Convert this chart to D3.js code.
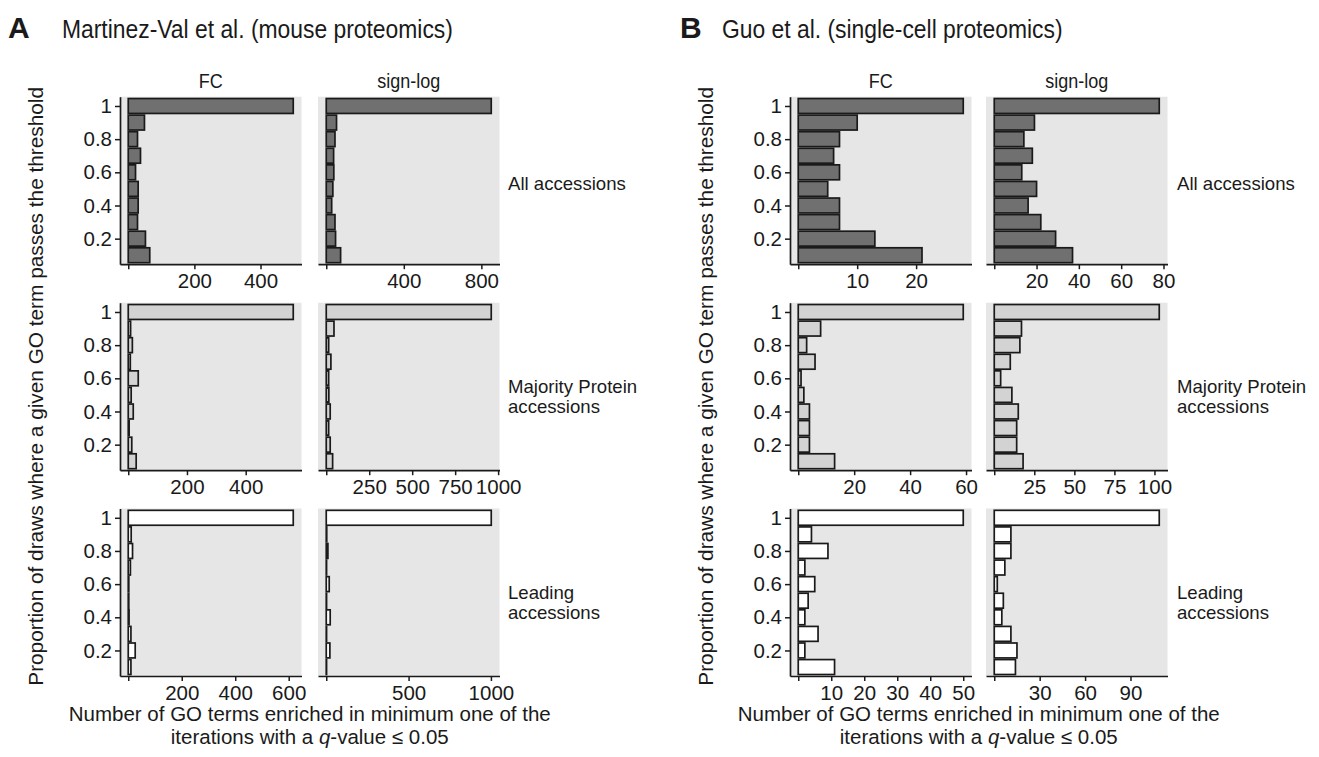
<!DOCTYPE html>
<html><head><meta charset="utf-8">
<script src="https://cdn.jsdelivr.net/npm/d3@7"></script>
<style>
body{margin:0;background:#fff}
text{font-family:"Liberation Sans",Arial,Helvetica,sans-serif;fill:#1a1a1a}
</style>
</head><body>
<svg id="chart" width="1319" height="757"></svg>
<script>
// ---------------- DATA ----------------
const proportions = [1.0, 0.9, 0.8, 0.7, 0.6, 0.5, 0.4, 0.3, 0.2, 0.1];
const methods = ["FC", "sign-log"];
const accessionTypes = ["All accessions", "Majority Protein\naccessions", "Leading\naccessions"];
const yTicks = [0.2, 0.4, 0.6, 0.8, 1];

// Panel A – Martinez-Val et al. (mouse proteomics)
const martinezAllFC        = [499, 49, 28, 37, 22, 30, 30, 28, 52, 65];
const martinezAllSignLog   = [851, 53, 45, 38, 39, 34, 28, 45, 48, 74];
const martinezMajorityFC   = [562, 8, 14, 7, 34, 10, 17, 3, 12, 27];
const martinezMajoritySignLog = [960, 45, 14, 27, 14, 15, 23, 14, 23, 37];
const martinezLeadingFC    = [617, 11, 16, 8, 2, 2, 3, 10, 26, 10];
const martinezLeadingSignLog = [1002, 3, 10, 2, 18, 2, 24, 2, 22, 2];

// Panel B – Guo et al. (single-cell proteomics)
const guoAllFC        = [28, 10, 7, 6, 7, 5, 7, 7, 13, 21];
const guoAllSignLog   = [78, 19, 14, 18, 13, 20, 16, 22, 29, 37];
const guoMajorityFC   = [59, 8, 3, 6, 1, 2, 4, 4, 4, 13];
const guoMajoritySignLog = [103, 17, 16, 10, 4, 11, 15, 14, 14, 18];
const guoLeadingFC    = [50, 4, 9, 2, 5, 3, 2, 6, 2, 11];
const guoLeadingSignLog = [109, 11, 11, 7, 2, 6, 5, 11, 15, 14];

// x tick values per facet
const martinezTicks = [
  [[0, 200, 400], [0, 400, 800]],
  [[0, 200, 400], [0, 250, 500, 750, 1000]],
  [[0, 200, 400, 600], [0, 500, 1000]]
];
const guoTicks = [
  [[0, 10, 20], [0, 20, 40, 60, 80]],
  [[0, 20, 40, 60], [0, 25, 50, 75, 100]],
  [[0, 10, 20, 30, 40, 50], [0, 30, 60, 90]]
];

const yAxisTitle = "Proportion of draws where a given GO term passes the threshold";
const xAxisTitle = ["Number of GO terms enriched in minimum one of the", "iterations with a ", "q", "-value \u2264 0.05"];

// ---------------- LAYOUT / STYLE ----------------
const fills = ["#707070", "#d3d3d3", "#ffffff"];
const panelBg = "#e6e6e6";
const ink = "#1a1a1a";
const panelW = 181.5, panelH = 167.5;
const rowTops = [96.7, 302.7, 508.5];

const groups = [
  { letter: "A", title: "Martinez-Val et al. (mouse proteomics)",
    data: [[martinezAllFC, martinezAllSignLog], [martinezMajorityFC, martinezMajoritySignLog], [martinezLeadingFC, martinezLeadingSignLog]],
    ticks: martinezTicks, colX: [120, 318], letterX: 8, titleX: 62, yTitleX: 43, stripX: 508 },
  { letter: "B", title: "Guo et al. (single-cell proteomics)",
    data: [[guoAllFC, guoAllSignLog], [guoMajorityFC, guoMajoritySignLog], [guoLeadingFC, guoLeadingSignLog]],
    ticks: guoTicks, colX: [790, 986], letterX: 680, titleX: 722, yTitleX: 713, stripX: 1177 }
];

const svg = d3.select("#chart");

groups.forEach(g => {
  // panel letter & title
  svg.append("text").attr("x", g.letterX).attr("y", 38)
    .attr("font-size", 30).attr("font-weight", "bold").text(g.letter);
  svg.append("text").attr("transform", `translate(${g.titleX},38) scale(0.88,1)`)
    .attr("font-size", 26).text(g.title);

  // column strip labels
  methods.forEach((m, c) => {
    svg.append("text")
      .attr("transform", `translate(${g.colX[c] + panelW / 2},88) scale(0.9,1)`)
      .attr("text-anchor", "middle").attr("font-size", 20).text(m);
  });

  g.data.forEach((rowData, r) => {
    const top = rowTops[r];
    const ys = d3.scaleLinear().domain([0.046, 1.056]).range([top + panelH, top]);
    const bh = ys(0) - ys(0.09);

    rowData.forEach((vals, c) => {
      const x0 = g.colX[c];
      const M = d3.max(vals);
      const xs = d3.scaleLinear().domain([-0.05 * M, 1.05 * M]).range([x0, x0 + panelW]);
      const gp = svg.append("g");
      gp.append("rect").attr("x", x0).attr("y", top).attr("width", panelW).attr("height", panelH)
        .attr("fill", panelBg);
      gp.selectAll("rect.bar").data(vals).join("rect").attr("class", "bar")
        .attr("x", xs(0))
        .attr("y", (d, i) => ys(proportions[i]) - bh / 2)
        .attr("width", d => xs(d) - xs(0))
        .attr("height", bh)
        .attr("fill", fills[r]).attr("stroke", ink).attr("stroke-width", 1.7);

      // bottom axis
      const ax = d3.axisBottom(xs).tickValues(g.ticks[r][c]).tickSize(5).tickSizeOuter(0).tickPadding(4)
        .tickFormat(d => d === 0 ? "" : d);
      const ga = svg.append("g").attr("transform", `translate(0,${top + panelH})`).call(ax);
      ga.select(".domain").attr("stroke", ink).attr("stroke-width", 1.7);
      ga.selectAll(".tick line").attr("stroke", ink).attr("stroke-width", 1.5);
      ga.selectAll(".tick text").attr("font-size", 20.5).attr("font-family", null).attr("fill", "#222");

      if (c === 0) {
        const ay = d3.axisLeft(ys).tickValues(yTicks).tickSize(5).tickSizeOuter(0).tickPadding(3)
          .tickFormat(d => d === 1 ? "1" : d3.format(".1f")(d));
        const gy = svg.append("g").attr("transform", `translate(${x0},0)`).call(ay);
        gy.select(".domain").attr("stroke", ink).attr("stroke-width", 1.7);
        gy.selectAll(".tick line").attr("stroke", ink).attr("stroke-width", 1.5);
        gy.selectAll(".tick text").attr("font-size", 20.5).attr("font-family", null).attr("fill", "#222");
      }
    });

    // row strip label
    const lines = accessionTypes[r].split("\n");
    const cy = top + panelH / 2;
    const lh = 19.5;
    const firstOffset = lines.length === 1 ? 10 : 7;
    const t = svg.append("text").attr("x", g.stripX).attr("font-size", 18.6);
    lines.forEach((ln, k) => {
      t.append("tspan").attr("x", g.stripX)
        .attr("y", cy + firstOffset + k * lh).text(ln);
    });
  });

  // y axis title, centred on the panel area
  const yc = (rowTops[0] + rowTops[2] + panelH) / 2;
  svg.append("text").attr("transform", `translate(${g.yTitleX},${yc}) rotate(-90)`)
    .attr("text-anchor", "middle").attr("font-size", 20.8).text(yAxisTitle);

  // x axis title, centred on the panel area
  const xc = (g.colX[0] + g.colX[1] + panelW) / 2;
  svg.append("text").attr("x", xc).attr("y", 721)
    .attr("text-anchor", "middle").attr("font-size", 20.5).text(xAxisTitle[0]);
  const t2 = svg.append("text").attr("x", xc).attr("y", 743.5)
    .attr("text-anchor", "middle").attr("font-size", 20.5);
  t2.append("tspan").text(xAxisTitle[1]);
  t2.append("tspan").attr("font-style", "italic").text(xAxisTitle[2]);
  t2.append("tspan").text(xAxisTitle[3]);
});
</script>
</body></html>
